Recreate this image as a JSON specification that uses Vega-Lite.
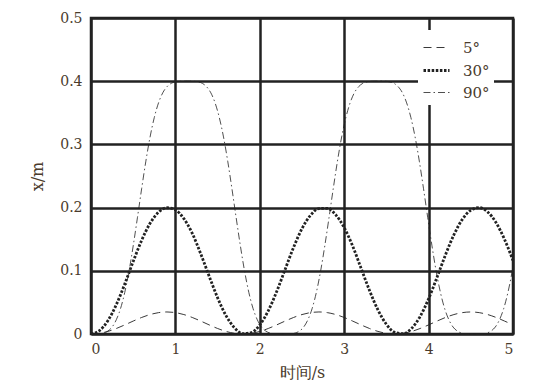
{
  "$schema": "https://vega.github.io/schema/vega-lite/v6.json",
  "width": 422,
  "height": 316,
  "autosize": {"type": "none"},
  "padding": {"left": 91, "top": 18, "right": 35, "bottom": 58},
  "background": "white",
  "config": {
    "font": "DejaVu Serif",
    "view": {"stroke": "#222222", "strokeWidth": 2.5},
    "axis": {
      "grid": true, "gridColor": "#222222", "gridWidth": 2.5, "gridOpacity": 1,
      "domain": false, "ticks": false,
      "labelFont": "DejaVu Serif", "labelFontSize": 14, "labelColor": "#4a3b2c",
      "titleFont": "DejaVu Serif", "titleFontSize": 16,
      "titleFontWeight": "normal", "titleColor": "#4a3b2c"
    },
    "legend": {"labelFont": "DejaVu Serif"}
  },
  "data": {"values": [
    {"a":"5°","t":0,"x":0},{"a":"5°","t":0.1,"x":0.00105},{"a":"5°","t":0.2,"x":0.00408},{"a":"5°","t":0.3,"x":0.00872},{"a":"5°","t":0.4,"x":0.0144},{"a":"5°","t":0.5,"x":0.02046},{"a":"5°","t":0.6,"x":0.02615},{"a":"5°","t":0.7,"x":0.03078},{"a":"5°","t":0.8,"x":0.03381},{"a":"5°","t":0.9,"x":0.03486},
    {"a":"5°","t":1.0,"x":0.03381},{"a":"5°","t":1.1,"x":0.03078},{"a":"5°","t":1.2,"x":0.02615},{"a":"5°","t":1.3,"x":0.02046},{"a":"5°","t":1.4,"x":0.0144},{"a":"5°","t":1.5,"x":0.00872},{"a":"5°","t":1.6,"x":0.00408},{"a":"5°","t":1.7,"x":0.00105},{"a":"5°","t":1.8,"x":0},{"a":"5°","t":1.9,"x":0.00105},
    {"a":"5°","t":2.0,"x":0.00408},{"a":"5°","t":2.1,"x":0.00872},{"a":"5°","t":2.2,"x":0.0144},{"a":"5°","t":2.3,"x":0.02046},{"a":"5°","t":2.4,"x":0.02615},{"a":"5°","t":2.5,"x":0.03078},{"a":"5°","t":2.6,"x":0.03381},{"a":"5°","t":2.7,"x":0.03486},{"a":"5°","t":2.8,"x":0.03381},{"a":"5°","t":2.9,"x":0.03078},
    {"a":"5°","t":3.0,"x":0.02615},{"a":"5°","t":3.1,"x":0.02046},{"a":"5°","t":3.2,"x":0.0144},{"a":"5°","t":3.3,"x":0.00872},{"a":"5°","t":3.4,"x":0.00408},{"a":"5°","t":3.5,"x":0.00105},{"a":"5°","t":3.6,"x":0},{"a":"5°","t":3.7,"x":0.00105},{"a":"5°","t":3.8,"x":0.00408},{"a":"5°","t":3.9,"x":0.00872},
    {"a":"5°","t":4.0,"x":0.0144},{"a":"5°","t":4.1,"x":0.02046},{"a":"5°","t":4.2,"x":0.02615},{"a":"5°","t":4.3,"x":0.03078},{"a":"5°","t":4.4,"x":0.03381},{"a":"5°","t":4.5,"x":0.03486},{"a":"5°","t":4.6,"x":0.03381},{"a":"5°","t":4.7,"x":0.03078},{"a":"5°","t":4.8,"x":0.02615},{"a":"5°","t":4.9,"x":0.02046},{"a":"5°","t":5.0,"x":0.0144},

    {"a":"30°","t":0,"x":0},{"a":"30°","t":0.1,"x":0.0053},{"a":"30°","t":0.2,"x":0.0211},{"a":"30°","t":0.3,"x":0.0465},{"a":"30°","t":0.4,"x":0.0791},{"a":"30°","t":0.5,"x":0.1147},{"a":"30°","t":0.6,"x":0.1482},{"a":"30°","t":0.7,"x":0.1751},{"a":"30°","t":0.8,"x":0.1926},{"a":"30°","t":0.9,"x":0.1998},
    {"a":"30°","t":1.0,"x":0.1965},{"a":"30°","t":1.1,"x":0.1825},{"a":"30°","t":1.2,"x":0.1592},{"a":"30°","t":1.3,"x":0.1269},{"a":"30°","t":1.4,"x":0.0915},{"a":"30°","t":1.5,"x":0.0573},{"a":"30°","t":1.6,"x":0.029},{"a":"30°","t":1.7,"x":0.0098},{"a":"30°","t":1.8,"x":0.0006},{"a":"30°","t":1.9,"x":0.0022},
    {"a":"30°","t":2.0,"x":0.0144},{"a":"30°","t":2.1,"x":0.0367},{"a":"30°","t":2.2,"x":0.0671},{"a":"30°","t":2.3,"x":0.1022},{"a":"30°","t":2.4,"x":0.137},{"a":"30°","t":2.5,"x":0.1667},{"a":"30°","t":2.6,"x":0.1876},{"a":"30°","t":2.7,"x":0.1985},{"a":"30°","t":2.8,"x":0.1988},{"a":"30°","t":2.9,"x":0.1886},
    {"a":"30°","t":3.0,"x":0.1683},{"a":"30°","t":3.1,"x":0.1392},{"a":"30°","t":3.2,"x":0.104},{"a":"30°","t":3.3,"x":0.0688},{"a":"30°","t":3.4,"x":0.038},{"a":"30°","t":3.5,"x":0.0153},{"a":"30°","t":3.6,"x":0.0026},{"a":"30°","t":3.7,"x":0.0005},{"a":"30°","t":3.8,"x":0.009},{"a":"30°","t":3.9,"x":0.0278},
    {"a":"30°","t":4.0,"x":0.0557},{"a":"30°","t":4.1,"x":0.0897},{"a":"30°","t":4.2,"x":0.1252},{"a":"30°","t":4.3,"x":0.157},{"a":"30°","t":4.4,"x":0.1814},{"a":"30°","t":4.5,"x":0.1959},{"a":"30°","t":4.6,"x":0.1999},{"a":"30°","t":4.7,"x":0.1931},{"a":"30°","t":4.8,"x":0.1761},{"a":"30°","t":4.9,"x":0.1496},{"a":"30°","t":5.0,"x":0.1164},

    {"a":"90°","t":0,"x":0},{"a":"90°","t":0.05,"x":0},{"a":"90°","t":0.1,"x":0.0003},{"a":"90°","t":0.15,"x":0.0015},{"a":"90°","t":0.2,"x":0.0047},{"a":"90°","t":0.25,"x":0.011},{"a":"90°","t":0.3,"x":0.0226},{"a":"90°","t":0.35,"x":0.0403},{"a":"90°","t":0.4,"x":0.0658},{"a":"90°","t":0.45,"x":0.0992},{"a":"90°","t":0.5,"x":0.1394},{"a":"90°","t":0.55,"x":0.1839},
    {"a":"90°","t":0.6,"x":0.2298},{"a":"90°","t":0.65,"x":0.2735},{"a":"90°","t":0.7,"x":0.3118},{"a":"90°","t":0.75,"x":0.3426},{"a":"90°","t":0.8,"x":0.3657},{"a":"90°","t":0.85,"x":0.3816},{"a":"90°","t":0.9,"x":0.3912},{"a":"90°","t":0.95,"x":0.3966},{"a":"90°","t":1.0,"x":0.399},{"a":"90°","t":1.05,"x":0.3998},{"a":"90°","t":1.1,"x":0.4},{"a":"90°","t":1.135,"x":0.4},
    {"a":"90°","t":1.17,"x":0.4},{"a":"90°","t":1.22,"x":0.3998},{"a":"90°","t":1.27,"x":0.399},{"a":"90°","t":1.32,"x":0.3966},{"a":"90°","t":1.37,"x":0.3912},{"a":"90°","t":1.42,"x":0.3816},{"a":"90°","t":1.47,"x":0.3657},{"a":"90°","t":1.52,"x":0.3426},{"a":"90°","t":1.57,"x":0.3118},{"a":"90°","t":1.62,"x":0.2735},{"a":"90°","t":1.67,"x":0.2298},{"a":"90°","t":1.72,"x":0.1839},
    {"a":"90°","t":1.77,"x":0.1394},{"a":"90°","t":1.82,"x":0.0992},{"a":"90°","t":1.87,"x":0.0658},{"a":"90°","t":1.92,"x":0.0403},{"a":"90°","t":1.97,"x":0.0226},{"a":"90°","t":2.02,"x":0.011},{"a":"90°","t":2.07,"x":0.0047},{"a":"90°","t":2.12,"x":0.0015},{"a":"90°","t":2.17,"x":0.0003},{"a":"90°","t":2.22,"x":0},{"a":"90°","t":2.27,"x":0},
    {"a":"90°","t":2.32,"x":0},{"a":"90°","t":2.37,"x":0.0003},{"a":"90°","t":2.42,"x":0.0015},{"a":"90°","t":2.47,"x":0.0047},{"a":"90°","t":2.52,"x":0.011},{"a":"90°","t":2.57,"x":0.0226},{"a":"90°","t":2.62,"x":0.0403},{"a":"90°","t":2.67,"x":0.0658},{"a":"90°","t":2.72,"x":0.0992},{"a":"90°","t":2.77,"x":0.1394},{"a":"90°","t":2.82,"x":0.1839},
    {"a":"90°","t":2.87,"x":0.2298},{"a":"90°","t":2.92,"x":0.2735},{"a":"90°","t":2.97,"x":0.3118},{"a":"90°","t":3.02,"x":0.3426},{"a":"90°","t":3.07,"x":0.3657},{"a":"90°","t":3.12,"x":0.3816},{"a":"90°","t":3.17,"x":0.3912},{"a":"90°","t":3.22,"x":0.3966},{"a":"90°","t":3.27,"x":0.399},{"a":"90°","t":3.32,"x":0.3998},{"a":"90°","t":3.37,"x":0.4},{"a":"90°","t":3.405,"x":0.4},
    {"a":"90°","t":3.44,"x":0.4},{"a":"90°","t":3.49,"x":0.3998},{"a":"90°","t":3.54,"x":0.399},{"a":"90°","t":3.59,"x":0.3966},{"a":"90°","t":3.64,"x":0.3912},{"a":"90°","t":3.69,"x":0.3816},{"a":"90°","t":3.74,"x":0.3657},{"a":"90°","t":3.79,"x":0.3426},{"a":"90°","t":3.84,"x":0.3118},{"a":"90°","t":3.89,"x":0.2735},{"a":"90°","t":3.94,"x":0.2298},{"a":"90°","t":3.99,"x":0.1839},
    {"a":"90°","t":4.04,"x":0.1394},{"a":"90°","t":4.09,"x":0.0992},{"a":"90°","t":4.14,"x":0.0658},{"a":"90°","t":4.19,"x":0.0403},{"a":"90°","t":4.24,"x":0.0226},{"a":"90°","t":4.29,"x":0.011},{"a":"90°","t":4.34,"x":0.0047},{"a":"90°","t":4.39,"x":0.0015},{"a":"90°","t":4.44,"x":0.0003},{"a":"90°","t":4.49,"x":0},{"a":"90°","t":4.54,"x":0},
    {"a":"90°","t":4.59,"x":0},{"a":"90°","t":4.64,"x":0.0003},{"a":"90°","t":4.69,"x":0.0015},{"a":"90°","t":4.74,"x":0.0047},{"a":"90°","t":4.79,"x":0.011},{"a":"90°","t":4.84,"x":0.0226},{"a":"90°","t":4.89,"x":0.0403},{"a":"90°","t":4.94,"x":0.0658},{"a":"90°","t":4.99,"x":0.0992},{"a":"90°","t":5.0,"x":0.1072}
  ]},
  "mark": {"type": "line", "interpolate": "monotone", "color": "#222222", "strokeCap": "butt"},
  "encoding": {
    "x": {
      "field": "t", "type": "quantitative",
      "scale": {"domain": [0, 5], "nice": false},
      "axis": {"values": [0, 1, 2, 3, 4, 5], "format": "d", "labelPadding": 8, "title": "时间/s", "titlePadding": 8}
    },
    "y": {
      "field": "x", "type": "quantitative",
      "scale": {"domain": [0, 0.5], "nice": false},
      "axis": {"values": [0, 0.1, 0.2, 0.3, 0.4, 0.5], "labelExpr": "datum.value == 0 ? '0' : format(datum.value, '.1f')", "labelPadding": 9, "title": "x/m", "titlePadding": 14}
    },
    "strokeDash": {
      "field": "a", "type": "nominal",
      "scale": {"domain": ["5°", "30°", "90°"], "range": [[8, 5], [2.5, 1.6], [7, 3, 1.5, 3]]},
      "legend": {"title": null, "orient": "none", "legendX": 327, "legendY": 12, "fillColor": "white", "padding": 4, "symbolType": "stroke", "symbolSize": 676, "symbolStrokeColor": "#222222", "labelFontSize": 15, "labelColor": "#4a3b2c", "labelOffset": 12, "rowPadding": 0}
    },
    "strokeWidth": {
      "field": "a", "type": "nominal",
      "scale": {"type": "ordinal", "domain": ["5°", "30°", "90°"], "range": [0.9, 2.8, 0.8]},
      "legend": {"title": null, "orient": "none", "legendX": 327, "legendY": 12, "fillColor": "white", "padding": 4, "symbolType": "stroke", "symbolSize": 676, "symbolStrokeColor": "#222222", "labelFontSize": 15, "labelColor": "#4a3b2c", "labelOffset": 12, "rowPadding": 0}
    }
  }
}
